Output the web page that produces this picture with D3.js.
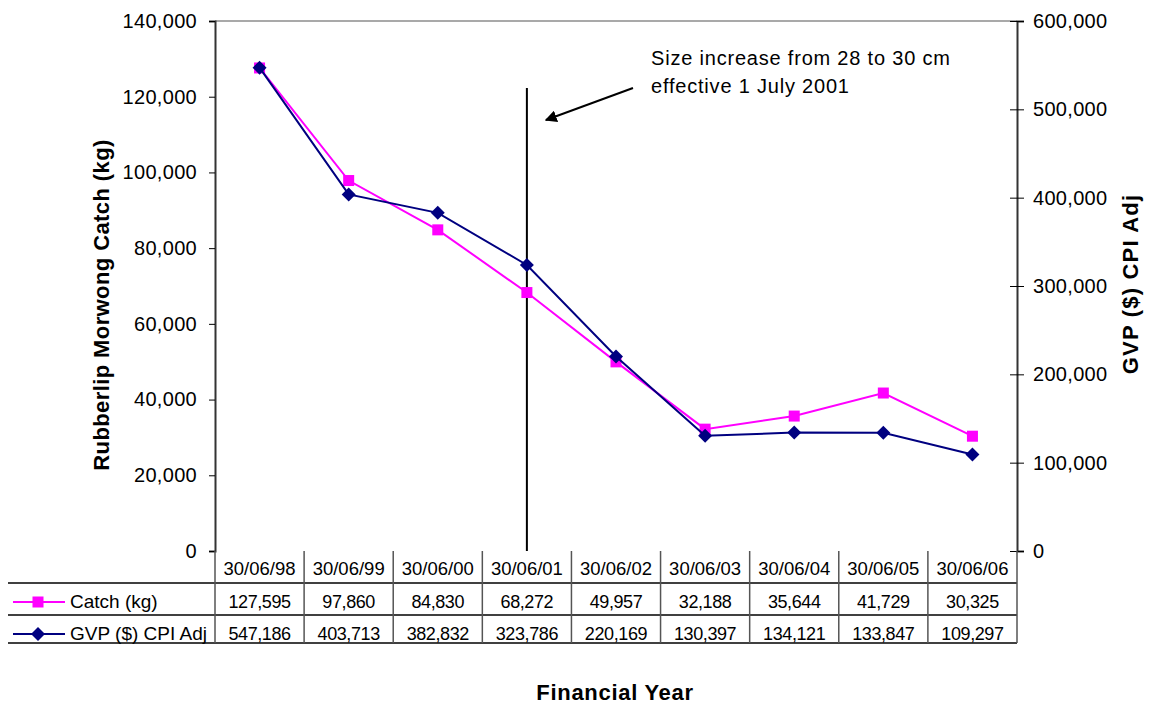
<!DOCTYPE html>
<html>
<head>
<meta charset="utf-8">
<script src="https://cdn.jsdelivr.net/npm/d3@7/dist/d3.min.js"></script>
<style>
  body { margin: 0; background: #fff; }
  svg { font-family: "Liberation Sans", Arial, sans-serif; }
</style>
</head>
<body>
<div class="chart"></div>
<script>
// data
const years = ["30/06/98","30/06/99","30/06/00","30/06/01","30/06/02","30/06/03","30/06/04","30/06/05","30/06/06"];
const catchKg = [127595, 97860, 84830, 68272, 49957, 32188, 35644, 41729, 30325];
const gvpAdj = [547186, 403713, 382832, 323786, 220169, 130397, 134121, 133847, 109297];
const leftTicks = [0, 20000, 40000, 60000, 80000, 100000, 120000, 140000];
const rightTicks = [0, 100000, 200000, 300000, 400000, 500000, 600000];

const W = 1150, H = 706;
const plot = {left: 215, right: 1017, top: 21, bottom: 551};
const rowY = [551, 583, 615, 643];  // table row edges

const svg = d3.select(".chart")
  .append("svg")
    .attr("width", W)
    .attr("height", H);

const x = d3.scaleBand()
  .domain(years)
  .range([plot.left, plot.right])
  .padding(0);

const y = d3.scaleLinear()
  .domain([0, 140000])
  .range([plot.bottom, plot.top]);

const y2 = d3.scaleLinear()
  .domain([0, 600000])
  .range([plot.bottom, plot.top]);

const fmt = d3.format(",");

// top border of plot area
svg.append("line")
  .attr("x1", plot.left).attr("x2", plot.right)
  .attr("y1", plot.top).attr("y2", plot.top)
  .attr("stroke", "#8c8c8c").attr("stroke-width", 1.5);

// left axis
const gl = svg.append("g")
  .attr("transform", `translate(${plot.left},0)`)
  .call(d3.axisLeft(y).tickValues(leftTicks).tickFormat(fmt).tickSize(6).tickPadding(12));
gl.select(".domain").attr("stroke", "#333").attr("stroke-width", 2);
gl.selectAll("text").attr("font-size", 20).attr("letter-spacing", 0.3).attr("fill", "#000");

// right axis, ticks cross the line
const gr = svg.append("g")
  .attr("transform", `translate(${plot.right},0)`)
  .call(d3.axisRight(y2).tickValues(rightTicks).tickFormat(fmt).tickSize(7).tickPadding(9));
gr.select(".domain").attr("stroke", "#333").attr("stroke-width", 2);
gr.selectAll(".tick").append("line").attr("x2", -7).attr("stroke", "currentColor");
gr.selectAll("text").attr("font-size", 20).attr("letter-spacing", 0.3).attr("fill", "#000");

// axis titles
svg.append("text")
  .attr("transform", "translate(109,305) rotate(-90)")
  .attr("text-anchor", "middle")
  .attr("font-size", 22).attr("font-weight", "bold")
  .attr("letter-spacing", 0.4)
  .text("Rubberlip Morwong Catch (kg)");

svg.append("text")
  .attr("transform", "translate(1138,284) rotate(-90)")
  .attr("text-anchor", "middle")
  .attr("font-size", 22).attr("font-weight", "bold")
  .attr("letter-spacing", 1.2)
  .text("GVP ($) CPI Adj");

svg.append("text")
  .attr("x", 615).attr("y", 700)
  .attr("text-anchor", "middle")
  .attr("font-size", 22).attr("font-weight", "bold")
  .attr("letter-spacing", 0.7)
  .text("Financial Year");

// size limit change marker
const xChange = x("30/06/01") + x.bandwidth() / 2;
svg.append("line")
  .attr("x1", xChange).attr("x2", xChange)
  .attr("y1", 88).attr("y2", plot.bottom)
  .attr("stroke", "#000").attr("stroke-width", 2);

svg.append("defs").append("marker")
  .attr("id", "arrow")
  .attr("viewBox", "0 0 10 10")
  .attr("refX", 9).attr("refY", 5)
  .attr("markerWidth", 6).attr("markerHeight", 6)
  .attr("orient", "auto")
  .append("path")
    .attr("d", "M0,0 L10,5 L0,10 z")
    .attr("fill", "#000");

svg.append("line")
  .attr("x1", 633).attr("y1", 88)
  .attr("x2", xChange + 19).attr("y2", 120)
  .attr("stroke", "#000").attr("stroke-width", 2)
  .attr("marker-end", "url(#arrow)");

const note = svg.append("text")
  .attr("font-size", 20)
  .attr("letter-spacing", 0.8);
note.append("tspan").attr("x", 651).attr("y", 65).text("Size increase from 28 to 30 cm");
note.append("tspan").attr("x", 651).attr("y", 93).text("effective 1 July 2001");

// series lines
const series = [
  {name: "Catch (kg)", values: catchKg, scale: y, color: "#ff00ff", shape: "square"},
  {name: "GVP ($) CPI Adj", values: gvpAdj, scale: y2, color: "#000080", shape: "diamond"}
];

function marker(g, s, cx, cy) {
  if (s.shape === "square") {
    g.append("rect")
      .attr("x", cx - 5.5).attr("y", cy - 5.5)
      .attr("width", 11).attr("height", 11)
      .attr("fill", s.color);
  } else {
    g.append("path")
      .attr("d", `M${cx},${cy - 7}L${cx + 7},${cy}L${cx},${cy + 7}L${cx - 7},${cy}Z`)
      .attr("fill", s.color);
  }
}

series.forEach(function(s) {
  const line = d3.line()
    .x((d, i) => x(years[i]) + x.bandwidth() / 2)
    .y(d => s.scale(d));
  svg.append("path")
    .datum(s.values)
    .attr("fill", "none")
    .attr("stroke", s.color)
    .attr("stroke-width", 2)
    .attr("d", line);
  const g = svg.append("g");
  s.values.forEach(function(v, i) {
    marker(g, s, x(years[i]) + x.bandwidth() / 2, s.scale(v));
  });
});

// data table under the chart
const table = svg.append("g");
table.selectAll(".hline")
  .data(rowY.slice(1))
  .join("line")
    .attr("x1", 8).attr("x2", plot.right)
    .attr("y1", d => d).attr("y2", d => d)
    .attr("stroke", "#000").attr("stroke-width", 1.5);

table.selectAll(".vline")
  .data(years.map(d => x(d)).concat([plot.right]))
  .join("line")
    .attr("x1", d => d).attr("x2", d => d)
    .attr("y1", rowY[0]).attr("y2", rowY[3])
    .attr("stroke", "#555").attr("stroke-width", 1.5);

table.selectAll(".cat")
  .data(years)
  .join("text")
    .attr("x", d => x(d) + x.bandwidth() / 2)
    .attr("y", 575)
    .attr("text-anchor", "middle")
    .attr("font-size", 18.5)
    .text(d => d);

series.forEach(function(s, k) {
  const base = k === 0 ? 608 : 640;
  table.append("g").selectAll("text")
    .data(s.values)
    .join("text")
      .attr("x", (d, i) => x(years[i]) + x.bandwidth() / 2)
      .attr("y", base)
      .attr("text-anchor", "middle")
      .attr("font-size", 18)
      .attr("letter-spacing", -0.4)
      .text(d => fmt(d));

  const ly = k === 0 ? 602 : 634;
  table.append("line")
    .attr("x1", 13).attr("x2", 65)
    .attr("y1", ly).attr("y2", ly)
    .attr("stroke", s.color).attr("stroke-width", 2);
  marker(table, s, 38, ly);
  table.append("text")
    .attr("x", 70).attr("y", base)
    .attr("font-size", 19)
    .text(s.name);
});
</script>
</body>
</html>
